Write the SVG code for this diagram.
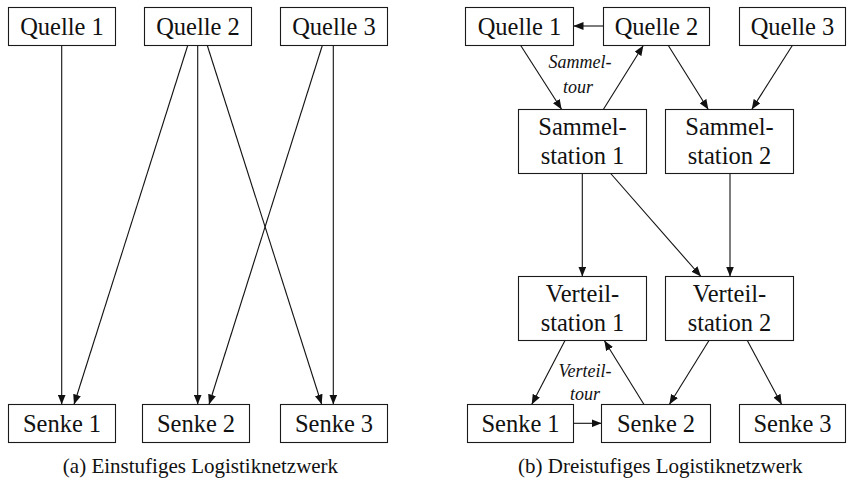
<svg xmlns="http://www.w3.org/2000/svg" width="847" height="480" viewBox="0 0 847 480">
  <style>
    .box { fill: #ffffff; stroke: #1a1a1a; stroke-width: 1.1; }
    text { font-family: 'Liberation Serif', serif; fill: #111; text-anchor: middle; }
    .lbl { font-size: 24.5px; }
    .tour { font-size: 18px; font-style: italic; }
    .cap { font-size: 21px; }
    .edge { stroke: #111; stroke-width: 1.1; fill: none; marker-end: url(#arrow); }
  </style>
  <defs>
    <marker id="arrow" markerUnits="userSpaceOnUse" markerWidth="10" markerHeight="8" refX="10" refY="4" orient="auto">
      <path d="M0,0 L10,4 L0,8 Z" fill="#111"/>
    </marker>
  </defs>

  <!-- (a) single-stage network: connectors -->
  <g id="edges-a">
    <line class="edge" x1="61.7" y1="45.5" x2="61.7" y2="404.5"/>
    <line class="edge" x1="187.7" y1="45.5" x2="74" y2="404.5"/>
    <line class="edge" x1="197.7" y1="45.5" x2="197.7" y2="404.5"/>
    <line class="edge" x1="207.3" y1="45.5" x2="321.7" y2="404.5"/>
    <line class="edge" x1="322.3" y1="45.5" x2="209" y2="404.5"/>
    <line class="edge" x1="333.3" y1="45.5" x2="333.3" y2="404.5"/>
  </g>

  <!-- (a) nodes -->
  <g id="a-quelle1"><rect class="box" x="8.5" y="7.5" width="107" height="38"/><text class="lbl" x="62" y="34.5">Quelle 1</text></g>
  <g id="a-quelle2"><rect class="box" x="144.5" y="7.5" width="107" height="38"/><text class="lbl" x="198" y="34.5">Quelle 2</text></g>
  <g id="a-quelle3"><rect class="box" x="280.5" y="7.5" width="107" height="38"/><text class="lbl" x="334" y="34.5">Quelle 3</text></g>
  <g id="a-senke1"><rect class="box" x="8.5" y="404.5" width="107" height="38"/><text class="lbl" x="62" y="432.3">Senke 1</text></g>
  <g id="a-senke2"><rect class="box" x="142.5" y="404.5" width="107" height="38"/><text class="lbl" x="196" y="432.3">Senke 2</text></g>
  <g id="a-senke3"><rect class="box" x="280.5" y="404.5" width="107" height="38"/><text class="lbl" x="334" y="432.3">Senke 3</text></g>

  <text class="cap" x="200.5" y="473">(a) Einstufiges Logistiknetzwerk</text>

  <!-- (b) three-stage network: connectors -->
  <g id="edges-b">
    <line class="edge" x1="603.5" y1="26" x2="573.5" y2="26"/>
    <line class="edge" x1="520.7" y1="45.5" x2="561.7" y2="109.5"/>
    <line class="edge" x1="603.3" y1="109.5" x2="643.3" y2="45.5"/>
    <line class="edge" x1="668.3" y1="45.5" x2="708.3" y2="109.5"/>
    <line class="edge" x1="792.3" y1="45.5" x2="751.7" y2="109.5"/>
    <line class="edge" x1="582.3" y1="173.5" x2="582.3" y2="276.5"/>
    <line class="edge" x1="610.7" y1="173.5" x2="701" y2="276.5"/>
    <line class="edge" x1="730" y1="173.5" x2="730" y2="276.5"/>
    <line class="edge" x1="565" y1="340.5" x2="531.7" y2="404.5"/>
    <line class="edge" x1="644" y1="404.5" x2="604.3" y2="340.5"/>
    <line class="edge" x1="709" y1="340.5" x2="669.3" y2="404.5"/>
    <line class="edge" x1="747.3" y1="340.5" x2="781.7" y2="404.5"/>
    <line class="edge" x1="573.5" y1="423.3" x2="601.5" y2="423.3"/>
  </g>

  <text class="tour" x="580" y="68">Sammel-</text>
  <text class="tour" x="578" y="92.5">tour</text>
  <text class="tour" x="585" y="377">Verteil-</text>
  <text class="tour" x="585" y="400">tour</text>

  <!-- (b) nodes -->
  <g id="b-quelle1"><rect class="box" x="465.5" y="7.5" width="108" height="38"/><text class="lbl" x="519.5" y="34.5">Quelle 1</text></g>
  <g id="b-quelle2"><rect class="box" x="603.5" y="7.5" width="106" height="38"/><text class="lbl" x="656.5" y="34.5">Quelle 2</text></g>
  <g id="b-quelle3"><rect class="box" x="739.5" y="7.5" width="106" height="38"/><text class="lbl" x="792.5" y="34.5">Quelle 3</text></g>
  <g id="b-sammel1"><rect class="box" x="518.5" y="109.5" width="128" height="64"/><text class="lbl" x="582.5" y="134.5">Sammel-</text><text class="lbl" x="582.5" y="163.5">station 1</text></g>
  <g id="b-sammel2"><rect class="box" x="665.5" y="109.5" width="128" height="64"/><text class="lbl" x="729.5" y="134.5">Sammel-</text><text class="lbl" x="729.5" y="163.5">station 2</text></g>
  <g id="b-verteil1"><rect class="box" x="518.5" y="276.5" width="128" height="64"/><text class="lbl" x="582.5" y="301.7">Verteil-</text><text class="lbl" x="582.5" y="331">station 1</text></g>
  <g id="b-verteil2"><rect class="box" x="665.5" y="276.5" width="128" height="64"/><text class="lbl" x="729.5" y="301.7">Verteil-</text><text class="lbl" x="729.5" y="331">station 2</text></g>
  <g id="b-senke1"><rect class="box" x="467.5" y="404.5" width="106" height="38"/><text class="lbl" x="520.5" y="432.3">Senke 1</text></g>
  <g id="b-senke2"><rect class="box" x="601.5" y="404.5" width="109" height="38"/><text class="lbl" x="656" y="432.3">Senke 2</text></g>
  <g id="b-senke3"><rect class="box" x="739.5" y="404.5" width="106" height="38"/><text class="lbl" x="792.5" y="432.3">Senke 3</text></g>

  <text class="cap" x="660.3" y="473">(b) Dreistufiges Logistiknetzwerk</text>
</svg>
